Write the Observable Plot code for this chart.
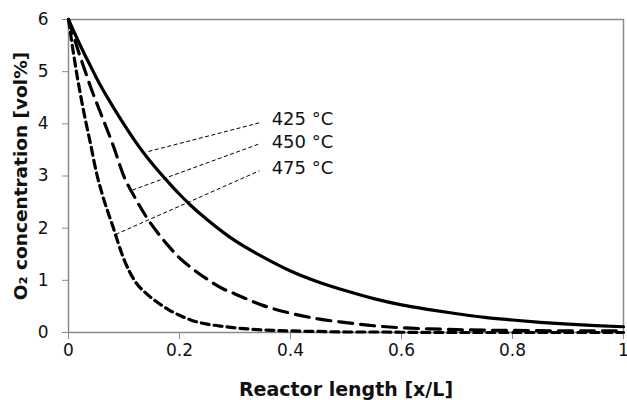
<!DOCTYPE html>
<html>
<head>
<meta charset="utf-8">
<script src="https://cdn.jsdelivr.net/npm/d3@7"></script>
<script src="https://cdn.jsdelivr.net/npm/@observablehq/plot@0.6"></script>
<style>
  body { margin: 0; background: #fff; }
</style>
</head>
<body>
<div id="chart"></div>
<script>
// posiciones a lo largo del reactor (x/L)
const xPos = [0, 0.01, 0.02, 0.03, 0.04, 0.05, 0.06, 0.08, 0.10, 0.12, 0.14, 0.16, 0.18, 0.20, 0.22, 0.25, 0.28, 0.30, 0.35, 0.40, 0.45, 0.50, 0.55, 0.60, 0.65, 0.70, 0.75, 0.80, 0.85, 0.90, 0.95, 1.0];

// concentracion de O2 [vol%]
const o2_425 = [6.00, 5.76, 5.53, 5.31, 5.10, 4.89, 4.69, 4.33, 3.99, 3.67, 3.38, 3.12, 2.88, 2.65, 2.44, 2.16, 1.91, 1.76, 1.45, 1.18, 0.97, 0.80, 0.65, 0.53, 0.44, 0.36, 0.29, 0.24, 0.195, 0.16, 0.13, 0.11];
const o2_450 = [6.00, 5.65, 5.32, 5.01, 4.70, 4.42, 4.15, 3.60, 2.99, 2.58, 2.22, 1.92, 1.66, 1.43, 1.25, 1.02, 0.83, 0.74, 0.52, 0.37, 0.26, 0.19, 0.13, 0.09, 0.07, 0.055, 0.045, 0.04, 0.035, 0.03, 0.03, 0.03];
const o2_475 = [6.00, 5.28, 4.65, 4.10, 3.60, 3.08, 2.68, 2.03, 1.40, 0.98, 0.75, 0.58, 0.44, 0.33, 0.24, 0.16, 0.115, 0.09, 0.05, 0.03, 0.02, 0.01, 0.01, 0.005, 0, 0, 0, 0, 0, 0, 0, 0];

// etiquetas y lineas guia
const labels = ["425 °C", "450 °C", "475 °C"];
const leaderFromX = [0.144, 0.115, 0.085];
const leaderFromY = [3.47, 2.73, 1.88];
const leaderToX = [0.348, 0.345, 0.344];
const leaderToY = [4.03, 3.62, 3.10];
const labelX = [0.366, 0.366, 0.366];
const labelY = [4.09, 3.65, 3.15];

const xTicks = [0, 0.2, 0.4, 0.6, 0.8, 1];
const yTicks = [0, 1, 2, 3, 4, 5, 6];

const series = [
  {name: "425", values: o2_425, dash: null},
  {name: "450", values: o2_450, dash: "14,8"},
  {name: "475", values: o2_475, dash: "8,5"}
];

const leaders = labels.map((t, i) => ({
  x1: leaderFromX[i], y1: leaderFromY[i], x2: leaderToX[i], y2: leaderToY[i]
}));
const notes = labels.map((t, i) => ({text: t, x: labelX[i], y: labelY[i]}));

const lineMarks = series.map(s =>
  Plot.line(xPos.map((x, i) => ({x, y: s.values[i]})), {
    x: "x", y: "y",
    stroke: "black",
    strokeWidth: 3.2,
    strokeDasharray: s.dash,
    curve: "monotone-x"
  })
);

const chart = Plot.plot({
  width: 627,
  height: 400,
  marginLeft: 68,
  marginRight: 4,
  marginTop: 19,
  marginBottom: 68,
  style: {fontFamily: "DejaVu Sans", fontSize: "17px", color: "#111", background: "#fff"},
  x: {domain: [0, 1]},
  y: {domain: [0, 6]},
  marks: [
    Plot.frame({stroke: "#8a8a8a", strokeWidth: 1.5}),
    Plot.axisX({ticks: xTicks, tickFormat: "~g", tickSize: 7, tickPadding: 4, stroke: "#8a8a8a", fill: "#111", label: null}),
    Plot.axisY({ticks: yTicks, tickFormat: "~g", tickSize: 6, tickPadding: 14, stroke: "#8a8a8a", fill: "#111", label: null}),
    ...lineMarks,
    Plot.link(leaders, {x1: "x1", y1: "y1", x2: "x2", y2: "y2", stroke: "black", strokeWidth: 1, strokeDasharray: "4,2.5"}),
    Plot.text(notes, {x: "x", y: "y", text: "text", textAnchor: "start", fill: "#111", fontSize: 18}),
    Plot.text(["Reactor length [x/L]"], {frameAnchor: "bottom", lineAnchor: "middle", dy: 57, fontWeight: "bold", fontSize: 19, fill: "#111"}),
    Plot.text(["O₂ concentration [vol%]"], {frameAnchor: "left", textAnchor: "middle", dx: -47, rotate: -90, fontWeight: "bold", fontSize: 18.5, fill: "#111"})
  ]
});

d3.select("#chart").append(() => chart);
</script>
</body>
</html>
